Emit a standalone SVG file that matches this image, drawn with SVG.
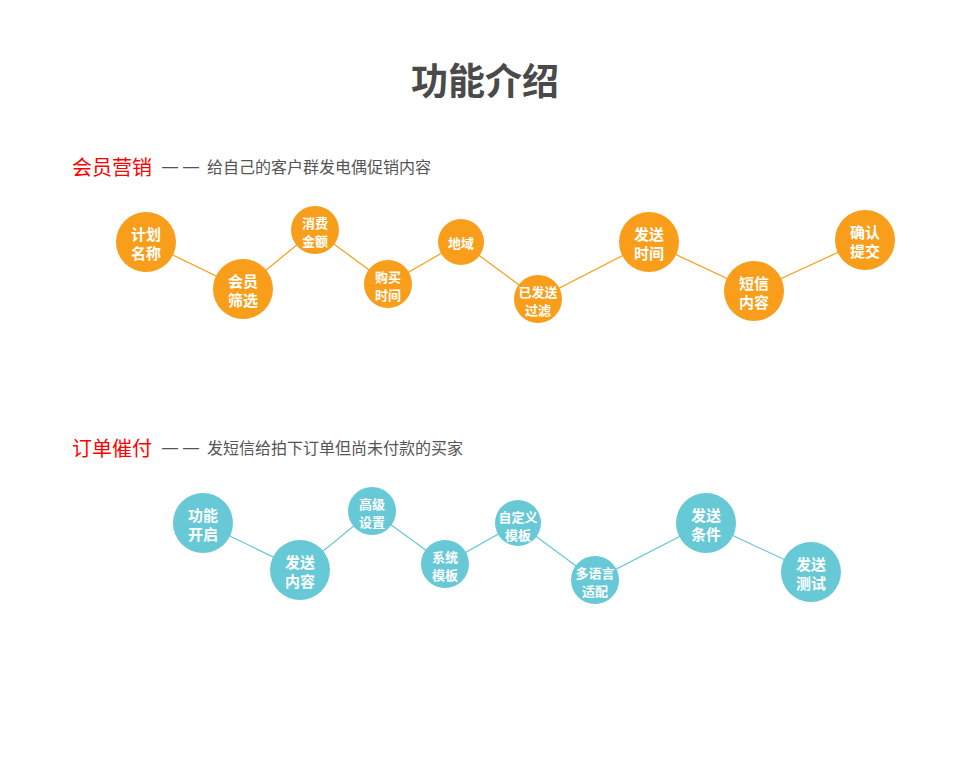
<svg xmlns="http://www.w3.org/2000/svg" width="971" height="760" viewBox="0 0 971 760">
<style>
text{font-family:"Noto Sans CJK SC","Liberation Sans",sans-serif;}
.title{font-size:37px;font-weight:bold;fill:#4a4a4a;text-anchor:middle;dominant-baseline:central;}
.h{font-size:20px;fill:#ff0000;dominant-baseline:central;}
.sub{font-size:16px;fill:#555555;dominant-baseline:central;}
.d{font-family:"Liberation Sans",sans-serif;}
.o{fill:#F89E1A;}
.t{fill:#68C9D6;}
.lo{stroke:#F89E1A;stroke-width:1.2;fill:none;}
.lt{stroke:#68C9D6;stroke-width:1.2;fill:none;}
.b{font-size:15px;font-weight:bold;fill:#ffffff;text-anchor:middle;dominant-baseline:central;}
.s{font-size:13px;font-weight:bold;fill:#ffffff;text-anchor:middle;dominant-baseline:central;}
</style>
<rect width="971" height="760" fill="#ffffff"/>
<text class="title" x="485" y="79">功能介绍</text>

<g id="heading1">
<text class="h" x="72" y="166">会员营销</text>
<text class="sub" y="166"><tspan class="d" x="162">—</tspan><tspan class="d" x="183">—</tspan><tspan x="207">给自己的客户群发电偶促销内容</tspan></text>
</g>
<g id="heading2">
<text class="h" x="72" y="447">订单催付</text>
<text class="sub" y="447"><tspan class="d" x="162">—</tspan><tspan class="d" x="183">—</tspan><tspan x="207">发短信给拍下订单但尚未付款的买家</tspan></text>
</g>

<g id="connectors">
<polyline class="lo" points="146,242 243,289 315,230 388,284 461,242 538,299 649,242 754,291 865,240"/>
<polyline class="lt" points="203,523 300,570 372,511 445,564 518,523 595,580 706,523 811,572"/>
</g>

<g id="n1"><circle class="o" cx="146" cy="242" r="30"/><text class="b" x="146" y="233">计划</text><text class="b" x="146" y="252">名称</text></g>
<g id="n2"><circle class="o" cx="243" cy="289" r="30"/><text class="b" x="243" y="280">会员</text><text class="b" x="243" y="299">筛选</text></g>
<g id="n3"><circle class="o" cx="315" cy="230" r="24"/><text class="s" x="315" y="222">消费</text><text class="s" x="315" y="240">金额</text></g>
<g id="n4"><circle class="o" cx="388" cy="284" r="24"/><text class="s" x="388" y="276">购买</text><text class="s" x="388" y="294">时间</text></g>
<g id="n5"><circle class="o" cx="461" cy="242" r="23"/><text class="s" x="461" y="242">地域</text></g>
<g id="n6"><circle class="o" cx="538" cy="299" r="24"/><text class="s" x="538" y="291">已发送</text><text class="s" x="538" y="309">过滤</text></g>
<g id="n7"><circle class="o" cx="649" cy="242" r="30"/><text class="b" x="649" y="233">发送</text><text class="b" x="649" y="252">时间</text></g>
<g id="n8"><circle class="o" cx="754" cy="291" r="30"/><text class="b" x="754" y="282">短信</text><text class="b" x="754" y="301">内容</text></g>
<g id="n9"><circle class="o" cx="865" cy="240" r="30"/><text class="b" x="865" y="231">确认</text><text class="b" x="865" y="250">提交</text></g>

<g id="m1"><circle class="t" cx="203" cy="523" r="30"/><text class="b" x="203" y="514">功能</text><text class="b" x="203" y="533">开启</text></g>
<g id="m2"><circle class="t" cx="300" cy="570" r="30"/><text class="b" x="300" y="561">发送</text><text class="b" x="300" y="580">内容</text></g>
<g id="m3"><circle class="t" cx="372" cy="511" r="24"/><text class="s" x="372" y="503">高级</text><text class="s" x="372" y="521">设置</text></g>
<g id="m4"><circle class="t" cx="445" cy="564" r="24"/><text class="s" x="445" y="556">系统</text><text class="s" x="445" y="574">模板</text></g>
<g id="m5"><circle class="t" cx="518" cy="523" r="23"/><text class="s" x="518" y="516">自定义</text><text class="s" x="518" y="534">模板</text></g>
<g id="m6"><circle class="t" cx="595" cy="580" r="24"/><text class="s" x="595" y="572">多语言</text><text class="s" x="595" y="590">适配</text></g>
<g id="m7"><circle class="t" cx="706" cy="523" r="30"/><text class="b" x="706" y="514">发送</text><text class="b" x="706" y="533">条件</text></g>
<g id="m8"><circle class="t" cx="811" cy="572" r="30"/><text class="b" x="811" y="563">发送</text><text class="b" x="811" y="582">测试</text></g>
</svg>
